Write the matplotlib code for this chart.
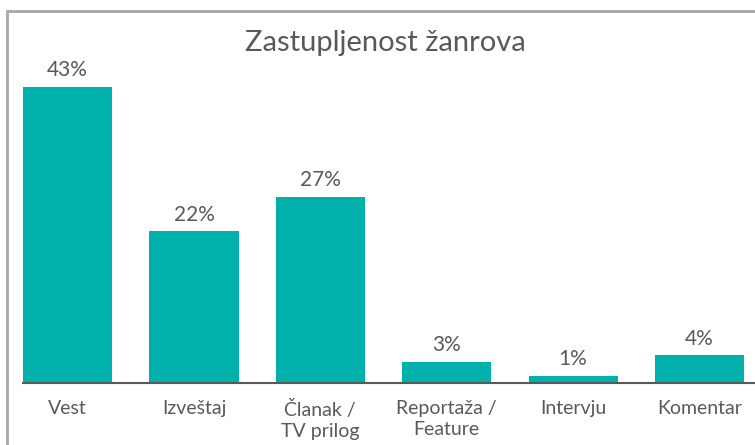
import matplotlib
matplotlib.use('Agg')
import matplotlib.pyplot as plt
from matplotlib.patches import Rectangle
import numpy as np

# -----------------------------------------------------
# data
# -----------------------------------------------------

categories = ['Vest', 'Izveštaj', 'Članak /\nTV prilog', 'Reportaža /\nFeature', 'Intervju', 'Komentar']
shares = [43, 22, 27, 3, 1, 4]
value_labels = ['43%', '22%', '27%', '3%', '1%', '4%']

bar_color = '#00B0AA'
text_color = '#595959'

plt.rcParams['font.family'] = ['Lato', 'DejaVu Sans']

fig = plt.figure(figsize=(7.55, 4.45), dpi=100)

# outer frame (cut off on the right and bottom like in the original)
W, H = 755, 445
frame = Rectangle((7 / W, -0.2), 1.2, (H - 11) / H + 0.2, transform=fig.transFigure,
                  fill=False, edgecolor='#A6A6A6', linewidth=2)
fig.patches.append(frame)

ax = fig.add_axes([23 / W, (H - 383) / H, (W - 23) / W, (383 - 60) / H])

x = np.arange(len(categories))
ax.bar(x, shares, width=0.705, color=bar_color)

for xi, val, lab in zip(x, shares, value_labels):
    ax.text(xi, val + 1.0, lab, ha='center', va='bottom', fontsize=15, color=text_color)

ax.set_xlim(-0.353, 5.44)
ax.set_ylim(0, 46.9)
ax.set_yticks([])
ax.set_xticks(x)
ax.set_xticklabels(categories, fontsize=14, color=text_color, linespacing=1.3)
ax.tick_params(axis='x', length=0, pad=12)

for side in ['left', 'right', 'top']:
    ax.spines[side].set_visible(False)
ax.spines['bottom'].set_color(text_color)
ax.spines['bottom'].set_linewidth(1.5)

fig.text(385 / W, 1 - 43 / H, 'Zastupljenost žanrova', ha='center', va='center',
         fontsize=21, color=text_color)

fig.savefig('out.png', dpi=100)
